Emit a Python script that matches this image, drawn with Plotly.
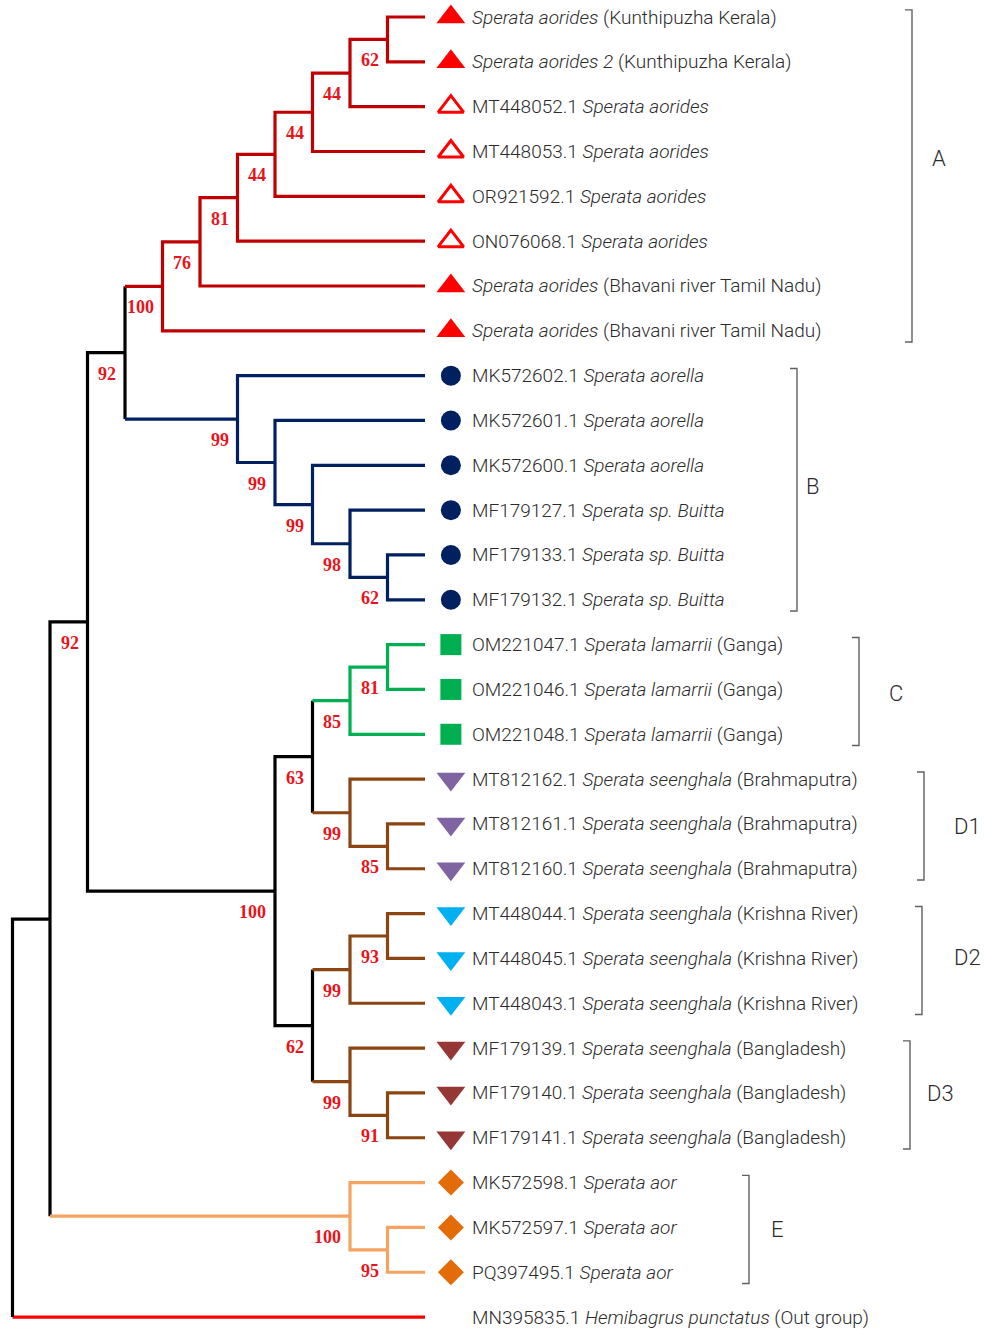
import plotly.graph_objects as go

# ---------------- data ----------------
leaf_labels = [
    "<i>Sperata aorides</i> (Kunthipuzha Kerala)",
    "<i>Sperata aorides 2</i> (Kunthipuzha Kerala)",
    "MT448052.1 <i>Sperata aorides</i>",
    "MT448053.1 <i>Sperata aorides</i>",
    "OR921592.1 <i>Sperata aorides</i>",
    "ON076068.1 <i>Sperata aorides</i>",
    "<i>Sperata aorides</i> (Bhavani river Tamil Nadu)",
    "<i>Sperata aorides</i> (Bhavani river Tamil Nadu)",
    "MK572602.1 <i>Sperata aorella</i>",
    "MK572601.1 <i>Sperata aorella</i>",
    "MK572600.1 <i>Sperata aorella</i>",
    "MF179127.1 <i>Sperata sp. Buitta</i>",
    "MF179133.1 <i>Sperata sp. Buitta</i>",
    "MF179132.1 <i>Sperata sp. Buitta</i>",
    "OM221047.1 <i>Sperata lamarrii</i> (Ganga)",
    "OM221046.1 <i>Sperata lamarrii</i> (Ganga)",
    "OM221048.1 <i>Sperata lamarrii</i> (Ganga)",
    "MT812162.1 <i>Sperata seenghala</i> (Brahmaputra)",
    "MT812161.1 <i>Sperata seenghala</i> (Brahmaputra)",
    "MT812160.1 <i>Sperata seenghala</i> (Brahmaputra)",
    "MT448044.1 <i>Sperata seenghala</i> (Krishna River)",
    "MT448045.1 <i>Sperata seenghala</i> (Krishna River)",
    "MT448043.1 <i>Sperata seenghala</i> (Krishna River)",
    "MF179139.1 <i>Sperata seenghala</i> (Bangladesh)",
    "MF179140.1 <i>Sperata seenghala</i> (Bangladesh)",
    "MF179141.1 <i>Sperata seenghala</i> (Bangladesh)",
    "MK572598.1 <i>Sperata aor</i>",
    "MK572597.1 <i>Sperata aor</i>",
    "PQ397495.1 <i>Sperata aor</i>",
    "MN395835.1 <i>Hemibagrus punctatus</i> (Out group)",
]
leaf_clade = ["A"] * 8 + ["B"] * 6 + ["C"] * 3 + ["D1"] * 3 + ["D2"] * 3 + ["D3"] * 3 + ["E"] * 3 + ["OUT"]
leaf_symbol_key = (["A_fill"] * 2 + ["A_open"] * 4 + ["A_fill"] * 2 + ["B"] * 6 + ["C"] * 3
                   + ["D1"] * 3 + ["D2"] * 3 + ["D3"] * 3 + ["E"] * 3 + [None])

# topology with bootstrap support (leaf numbers = row index)
clade_A = "(((((((0,1)62,2)44,3)44,4)44,5)81,6)76,7)100"
clade_B = "(8,(9,(10,(11,(12,13)62)98)99)99)99"
clade_C = "((14,15)81,16)85"
clade_D1 = "(17,(18,19)85)99"
clade_D2 = "((20,21)93,22)99"
clade_D3 = "(23,(24,25)91)99"
clade_E = "(26,(27,28)95)100"
outgroup = "29"
tree_newick = ("((((" + clade_A + "," + clade_B + ")92,((" + clade_C + "," + clade_D1 + ")63,("
               + clade_D2 + "," + clade_D3 + ")62)100)92," + clade_E + ")," + outgroup + ")")

bracket_names = ["A", "B", "C", "D1", "D2", "D3", "E"]

# ---------------- styles ----------------
line_colors = {"A": "#C00000", "B": "#002060", "C": "#00B050", "D1": "#8B4513", "D2": "#8B4513",
               "D3": "#8B4513", "E": "#F4A460", "OUT": "#FF0000", None: "#000000"}
marker_styles = {
    "A_fill": dict(symbol="triangle-up", color="#FF0000", size=25),
    "A_open": dict(symbol="triangle-up-open", color="#FF0000", size=22, line=dict(width=3, color="#FF0000")),
    "B": dict(symbol="circle", color="#002060", size=20),
    "C": dict(symbol="square", color="#00B050", size=21),
    "D1": dict(symbol="triangle-down", color="#8064A2", size=25),
    "D2": dict(symbol="triangle-down", color="#00B0F0", size=25),
    "D3": dict(symbol="triangle-down", color="#953735", size=25),
    "E": dict(symbol="diamond", color="#E36C09", size=20),
}
# bracket x (px) and label x (px), label row offset
bracket_style = {"A": (912, 939, -0.35), "B": (797, 813, -0.02), "C": (859, 896, 0.1),
                 "D1": (924, 967, 0.05), "D2": (922, 967, -0.01), "D3": (910, 940, 0.02),
                 "E": (749, 777, 0.04)}
W, H = 984, 1329
LINE_W = 3.2
MARKER_X = -0.69
TEXT_X = -1.2


# ---------------- parse tree ----------------
def parse(s):
    pos = [0]

    def node():
        if s[pos[0]] == "(":
            pos[0] += 1
            kids = [node()]
            while s[pos[0]] == ",":
                pos[0] += 1
                kids.append(node())
            pos[0] += 1  # ')'
            lab = ""
            while pos[0] < len(s) and s[pos[0]] not in ",()":
                lab += s[pos[0]]
                pos[0] += 1
            return {"children": kids, "support": lab}
        lab = ""
        while pos[0] < len(s) and s[pos[0]] not in ",()":
            lab += s[pos[0]]
            pos[0] += 1
        return {"children": [], "leaf": int(lab)}

    return node()


root = parse(tree_newick)


def layout(n):
    if not n["children"]:
        n["h"] = 0
        n["y"] = n["leaf"]
        n["groups"] = {leaf_clade[n["leaf"]]}
    else:
        for c in n["children"]:
            layout(c)
        n["h"] = 1 + max(c["h"] for c in n["children"])
        n["y"] = (n["children"][0]["y"] + n["children"][-1]["y"]) / 2
        n["groups"] = set().union(*[c["groups"] for c in n["children"]])
    n["group"] = next(iter(n["groups"])) if len(n["groups"]) == 1 else None


layout(root)

segs = {}  # color -> (xs, ys)


def add(color, xs, ys):
    X, Y = segs.setdefault(color, ([], []))
    X.extend(xs + [None])
    Y.extend(ys + [None])


supports = []


def draw(n):
    if not n["children"]:
        return
    col = line_colors[n["group"]]
    c1, c2 = n["children"][0], n["children"][-1]
    col1, col2 = line_colors[c1["group"]], line_colors[c2["group"]]
    xs, ys = [], []
    if col1 == col:
        xs += [c1["h"], n["h"]]
        ys += [c1["y"], c1["y"]]
    else:
        add(col1, [n["h"], c1["h"]], [c1["y"], c1["y"]])
    xs += [n["h"], n["h"]]
    ys += [c1["y"], c2["y"]]
    if col2 == col:
        xs += [c2["h"]]
        ys += [c2["y"]]
    else:
        add(col2, [n["h"], c2["h"]], [c2["y"], c2["y"]])
    add(col, xs, ys)
    if n.get("support"):
        supports.append((n["h"], n["y"], n["support"]))
    for c in n["children"]:
        draw(c)


draw(root)

fig = go.Figure()
for color, (X, Y) in segs.items():
    fig.add_trace(go.Scatter(x=X, y=Y, mode="lines", line=dict(color=color, width=LINE_W),
                             hoverinfo="skip", showlegend=False))

for key, st in marker_styles.items():
    rows = [i for i, k in enumerate(leaf_symbol_key) if k == key]
    mk = dict(symbol=st["symbol"], color=st["color"], size=st["size"])
    if "line" in st:
        mk["line"] = st["line"]
    else:
        mk["line"] = dict(width=0)
    fig.add_trace(go.Scatter(x=[MARKER_X] * len(rows), y=rows, mode="markers", marker=mk,
                             hoverinfo="skip", showlegend=False))

ann = []
for i, lab in enumerate(leaf_labels):
    ann.append(dict(x=TEXT_X, y=i, xref="x", yref="y", text=lab, showarrow=False,
                    xanchor="left", yanchor="middle",
                    font=dict(family="Roboto", size=19, color="#2b2b2b", weight=300)))

for h, y, s in supports:
    ann.append(dict(x=h, y=y, xref="x", yref="y", text="<b>%s</b>" % s, showarrow=False,
                    xanchor="right", yanchor="middle", xshift=-7, yshift=-21,
                    font=dict(family="Liberation Serif", size=18, color="#E8141C")))

# brackets
bx, by = [], []
for name in bracket_names:
    rows = [i for i, c in enumerate(leaf_clade) if c == name]
    r0, r1 = min(rows) - 0.16, max(rows) + 0.25
    px, lpx, loff = bracket_style[name]
    x = px / W
    t = 7 / W
    bx += [x - t, x, x, x - t, None]
    by += [r0, r0, r1, r1, None]
    ann.append(dict(x=lpx / W, y=(min(rows) + max(rows)) / 2 + loff, xref="paper", yref="y",
                    text=name, showarrow=False, xanchor="center", yanchor="middle",
                    font=dict(family="Roboto", size=22, color="#2b2b2b", weight=300)))

fig.add_trace(go.Scatter(x=bx, y=by, xaxis="x2", mode="lines", line=dict(color="#606060", width=1.4),
                         hoverinfo="skip", showlegend=False))

fig.update_layout(
    width=W, height=H, margin=dict(l=0, r=0, t=0, b=0),
    paper_bgcolor="white", plot_bgcolor="white",
    xaxis=dict(range=[425 / 37.5, (425 - W) / 37.5], visible=False),
    xaxis2=dict(range=[0, 1], overlaying="x", visible=False),
    yaxis=dict(range=[(H - 17) / 44.83, -17 / 44.83], visible=False),
    annotations=ann,
)

fig.write_html("out.html", config={"displayModeBar": False},
               post_script="document.body.style.margin='0';document.body.style.overflow='hidden';")
